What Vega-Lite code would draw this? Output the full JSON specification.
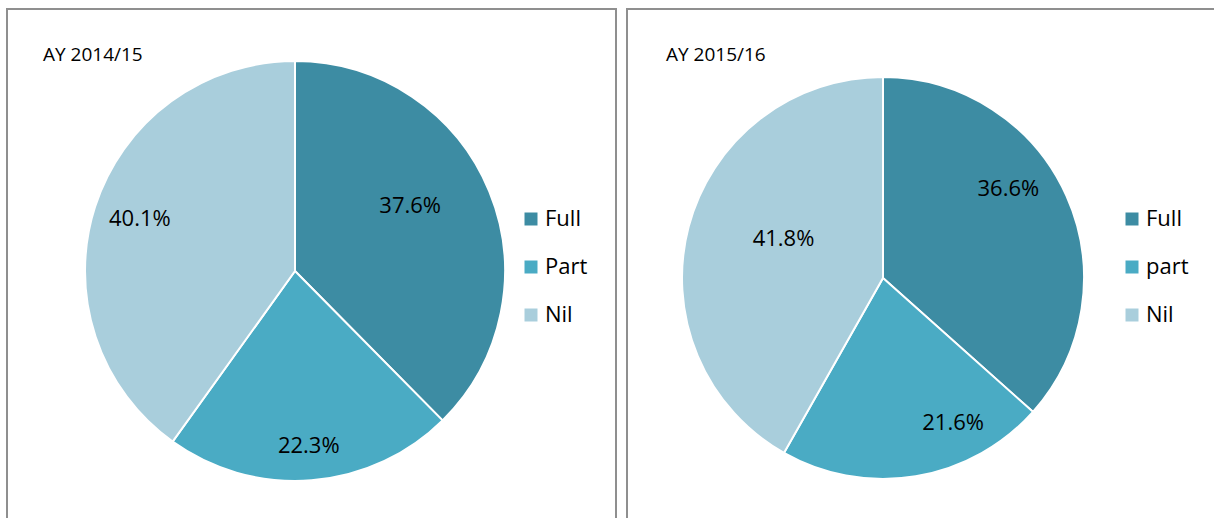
{
  "$schema": "https://vega.github.io/schema/vega-lite/v6.json",
  "background": "white",
  "padding": {"left": 6, "top": 8, "right": 0, "bottom": 0},
  "spacing": 9,
  "resolve": {"scale": {"color": "independent"}, "legend": {"color": "independent"}},
  "config": {
    "view": {"stroke": "#8f8f8f", "strokeWidth": 2},
    "font": "Open Sans",
    "text": {"font": "Open Sans"}
  },
  "hconcat": [
    {
      "width": 609,
      "height": 530,
      "view": {"stroke": "#8f8f8f", "strokeWidth": 2},
      "title": {"text": "AY 2014/15", "anchor": "start", "offset": -56, "dx": 36, "fontSize": 19, "fontWeight": "normal", "font": "Open Sans", "color": "black"},
      "data": {"values": [
        {"category": "Full", "share": 0.376, "idx": 1},
        {"category": "Part", "share": 0.223, "idx": 2},
        {"category": "Nil", "share": 0.401, "idx": 3}
      ]},
      "encoding": {
        "theta": {"field": "share", "type": "quantitative", "stack": true},
        "order": {"field": "idx", "type": "quantitative"}
      },
      "layer": [
        {
          "mark": {"type": "arc", "outerRadius": 210, "stroke": "white", "strokeWidth": 2, "xOffset": -16.5, "yOffset": -3},
          "encoding": {
            "color": {
              "field": "category", "type": "nominal",
              "scale": {"domain": ["Full", "Part", "Nil"], "range": ["#3D8CA3", "#4AABC4", "#A9CEDC"]},
              "legend": {"orient": "none", "legendX": 513, "legendY": 199, "title": null, "labelFontSize": 22, "labelFont": "Open Sans", "labelColor": "black", "symbolType": "square", "symbolSize": 169, "rowPadding": 26, "labelOffset": 3, "padding": 0, "symbolStrokeWidth": 0, "symbolOpacity": 1}
            }
          }
        },
        {
          "mark": {"type": "text", "radius": 131, "dx": -6, "dy": -15, "xOffset": -16.5, "yOffset": -3, "fontSize": 22, "fill": "black", "baseline": "middle"},
          "encoding": {"text": {"condition": {"test": "datum.category === 'Full'", "field": "share", "format": ".1%"}, "value": ""}}
        },
        {
          "mark": {"type": "text", "radius": 175.5, "dx": 0, "dy": 0, "xOffset": -16.5, "yOffset": -3, "fontSize": 22, "fill": "black", "baseline": "middle"},
          "encoding": {"text": {"condition": {"test": "datum.category === 'Part'", "field": "share", "format": ".1%"}, "value": ""}}
        },
        {
          "mark": {"type": "text", "radius": 163, "dx": 0, "dy": -2, "xOffset": -16.5, "yOffset": -3, "fontSize": 22, "fill": "black", "baseline": "middle"},
          "encoding": {"text": {"condition": {"test": "datum.category === 'Nil'", "field": "share", "format": ".1%"}, "value": ""}}
        }
      ]
    },
    {
      "width": 600,
      "height": 530,
      "view": {"stroke": "#8f8f8f", "strokeWidth": 2},
      "title": {"text": "AY 2015/16", "anchor": "start", "offset": -56, "dx": 39, "fontSize": 19, "fontWeight": "normal", "font": "Open Sans", "color": "black"},
      "data": {"values": [
        {"category": "Full", "share": 0.366, "idx": 1},
        {"category": "part", "share": 0.216, "idx": 2},
        {"category": "Nil", "share": 0.418, "idx": 3}
      ]},
      "encoding": {
        "theta": {"field": "share", "type": "quantitative", "stack": true},
        "order": {"field": "idx", "type": "quantitative"}
      },
      "layer": [
        {
          "mark": {"type": "arc", "outerRadius": 201, "stroke": "white", "strokeWidth": 2, "xOffset": -44, "yOffset": 4},
          "encoding": {
            "color": {
              "field": "category", "type": "nominal",
              "scale": {"domain": ["Full", "part", "Nil"], "range": ["#3D8CA3", "#4AABC4", "#A9CEDC"]},
              "legend": {"orient": "none", "legendX": 494, "legendY": 199, "title": null, "labelFontSize": 22, "labelFont": "Open Sans", "labelColor": "black", "symbolType": "square", "symbolSize": 169, "rowPadding": 26, "labelOffset": 3, "padding": 0, "symbolStrokeWidth": 0, "symbolOpacity": 1}
            }
          }
        },
        {
          "mark": {"type": "text", "radius": 150.5, "dx": -12, "dy": -27, "xOffset": -44, "yOffset": 4, "fontSize": 22, "fill": "black", "baseline": "middle"},
          "encoding": {"text": {"condition": {"test": "datum.category === 'Full'", "field": "share", "format": ".1%"}, "value": ""}}
        },
        {
          "mark": {"type": "text", "radius": 154.5, "dx": 45, "dy": -7, "xOffset": -44, "yOffset": 4, "fontSize": 22, "fill": "black", "baseline": "middle"},
          "encoding": {"text": {"condition": {"test": "datum.category === 'part'", "field": "share", "format": ".1%"}, "value": ""}}
        },
        {
          "mark": {"type": "text", "radius": 106, "dx": 3, "dy": -12, "xOffset": -44, "yOffset": 4, "fontSize": 22, "fill": "black", "baseline": "middle"},
          "encoding": {"text": {"condition": {"test": "datum.category === 'Nil'", "field": "share", "format": ".1%"}, "value": ""}}
        }
      ]
    }
  ]
}
